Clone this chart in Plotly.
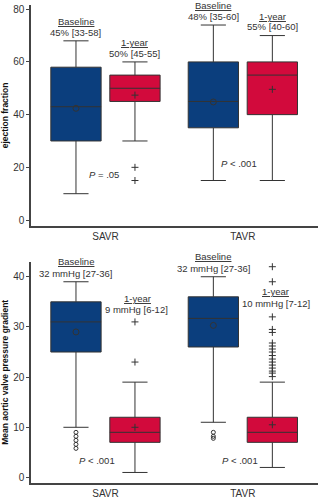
import plotly.graph_objects as go
from plotly.subplots import make_subplots

categories = ["SAVR", "TAVR"]
series = ["Baseline", "1-year"]

# Ejection fraction (top panel)
ef_q1 = {"Baseline": [30, 35], "1-year": [45, 40]}
ef_median = {"Baseline": [43, 45], "1-year": [50, 55]}
ef_q3 = {"Baseline": [58, 60], "1-year": [55, 60]}
ef_low = {"Baseline": [10, 15], "1-year": [30, 15]}
ef_high = {"Baseline": [68, 74], "1-year": [60, 70]}
ef_mean = {"Baseline": [42.4, 44.8], "1-year": [47.4, 49.6]}
ef_outliers = {"Baseline": [[], []], "1-year": [[20, 15], []]}
ef_labels = {"Baseline": ["45% [33-58]", "48% [35-60]"],
             "1-year": ["50% [45-55]", "55% [40-60]"]}
ef_pvalues = ["<i>P</i> = .05", "<i>P</i> < .001"]

# Mean aortic valve pressure gradient (bottom panel)
pg_q1 = {"Baseline": [25, 26], "1-year": [7, 7]}
pg_median = {"Baseline": [31, 31.7], "1-year": [9, 9]}
pg_q3 = {"Baseline": [35, 36], "1-year": [12, 12]}
pg_low = {"Baseline": [10, 11], "1-year": [1, 2]}
pg_high = {"Baseline": [39, 40], "1-year": [19, 19]}
pg_mean = {"Baseline": [29.0, 30.3], "1-year": [10.0, 10.5]}
pg_outliers = {"Baseline": [[9, 8.2, 7.4, 6.6, 5.8], [9, 8.2, 7.8]],
               "1-year": [[31, 23],
                          [42, 39, 32, 29.5, 28.9, 26.8, 26.2, 25.6, 25, 24.3,
                           23.6, 23, 22.4, 21.8, 21.2, 20.8, 20.1]]}
pg_labels = {"Baseline": ["32 mmHg [27-36]", "32 mmHg [27-36]"],
             "1-year": ["9 mmHg [6-12]", "10 mmHg [7-12]"]}
pg_pvalues = ["<i>P</i> < .001", "<i>P</i> < .001"]

# style
fills = {"Baseline": "#0b3e7d", "1-year": "#d20a3c"}
mean_symbol = {"Baseline": "circle-open", "1-year": "cross-thin"}
out_symbol = {"Baseline": "circle-open", "1-year": "cross-thin"}
offset = {"Baseline": -0.2147, "1-year": 0.2147}
box_w = 0.366
font = "Liberation Sans, Arial, sans-serif"
ink = "#333333"

fig = make_subplots(rows=2, cols=1, vertical_spacing=0.075)

panels = [
    (1, ef_q1, ef_median, ef_q3, ef_low, ef_high, ef_mean, ef_outliers),
    (2, pg_q1, pg_median, pg_q3, pg_low, pg_high, pg_mean, pg_outliers),
]

for row, q1, med, q3, lo, hi, mn, outl in panels:
    for s in series:
        xs = [i + offset[s] for i in range(len(categories))]
        fig.add_trace(go.Box(
            x=xs, q1=q1[s], median=med[s], q3=q3[s],
            lowerfence=lo[s], upperfence=hi[s],
            width=box_w, whiskerwidth=0.5,
            fillcolor=fills[s], line=dict(color=ink, width=1),
            boxpoints=False, showlegend=False, hoverinfo="skip",
        ), row=row, col=1)
        fig.add_trace(go.Scatter(
            x=xs, y=mn[s], mode="markers",
            marker=dict(symbol=mean_symbol[s], size=6 if s == "Baseline" else 5,
                        color=ink, line=dict(color=ink, width=1)),
            showlegend=False, hoverinfo="skip",
        ), row=row, col=1)
        ox, oy = [], []
        for i, vals in enumerate(outl[s]):
            for v in vals:
                ox.append(i + offset[s])
                oy.append(v)
        if ox:
            fig.add_trace(go.Scatter(
                x=ox, y=oy, mode="markers",
                marker=dict(symbol=out_symbol[s], size=4 if s == "Baseline" else 5,
                            color=ink, line=dict(color=ink, width=1)),
                showlegend=False, hoverinfo="skip",
            ), row=row, col=1)

# Annotations (positions in data units)
ann_font = dict(family=font, size=9.5, color=ink)
def add_text(txt, x, y, row, yshift=0):
    fig.add_annotation(text=txt, x=x, y=y, xref="x" if row == 1 else "x2",
                       yref="y" if row == 1 else "y2", showarrow=False,
                       font=ann_font, xanchor="center", yanchor="middle",
                       yshift=yshift)

# top panel labels
add_text("<u>Baseline</u>", 0 + offset["Baseline"], 75.5, 1)
add_text(ef_labels["Baseline"][0], 0 + offset["Baseline"], 71.0, 1)
add_text("<u>1-year</u>", 0 + offset["1-year"], 67.5, 1)
add_text(ef_labels["1-year"][0], 0 + offset["1-year"], 63.3, 1)
add_text("<u>Baseline</u>", 1 + offset["Baseline"], 77.1, 1, yshift=11.6)
add_text(ef_labels["Baseline"][1], 1 + offset["Baseline"], 77.1, 1)
add_text("<u>1-year</u>", 1 + offset["1-year"], 77.3, 1)
add_text(ef_labels["1-year"][1], 1 + offset["1-year"], 73.3, 1)
add_text(ef_pvalues[0], -0.01, 17.4, 1)
add_text(ef_pvalues[1], 0.97, 21.5, 1)

# bottom panel labels
add_text("<u>Baseline</u>", 0 + offset["Baseline"], 40.7, 2, yshift=11.6)
add_text(pg_labels["Baseline"][0], 0 + offset["Baseline"], 40.7, 2)
add_text("<u>1-year</u>", 0.235, 35.7, 2)
add_text(pg_labels["1-year"][0], 0.228, 33.4, 2)
add_text("<u>Baseline</u>", 1 + offset["Baseline"], 41.7, 2, yshift=11.6)
add_text(pg_labels["Baseline"][1], 1 + offset["Baseline"], 41.7, 2)
add_text("<u>1-year</u>", 1.24, 37.0, 2)
add_text(pg_labels["1-year"][1], 1.24, 34.7, 2)
add_text(pg_pvalues[0], -0.064, 3.4, 2)
add_text(pg_pvalues[1], 0.98, 3.4, 2)

axis_common = dict(showline=True, linecolor="#444444", linewidth=1.5,
                   showgrid=False, zeroline=False, ticks="outside",
                   ticklen=3, tickcolor="#444444",
                   tickfont=dict(family=font, size=10, color=ink))

for row in (1, 2):
    fig.update_xaxes(range=[-0.542, 1.547], tickvals=list(range(len(categories))),
                     ticktext=categories, ticks="", showline=True,
                     linecolor="#444444", linewidth=1.5, showgrid=False,
                     zeroline=False, tickfont=dict(family=font, size=10, color=ink),
                     row=row, col=1)

fig.update_yaxes(range=[-2.2, 81.6], tickvals=[0, 20, 40, 60, 80],
                 title=dict(text="<b>ejection fraction</b>", standoff=4,
                            font=dict(family=font, size=8.5, color="#111111")),
                 row=1, col=1, **axis_common)
fig.update_yaxes(range=[-1.1, 43.0], tickvals=[0, 10, 20, 30, 40],
                 title=dict(text="<b>Mean aortic valve pressure gradient</b>", standoff=4,
                            font=dict(family=font, size=8.5, color="#111111")),
                 row=2, col=1, **axis_common)

fig.update_layout(
    width=318, height=500,
    margin=dict(l=31, r=0, t=5, b=17),
    plot_bgcolor="white", paper_bgcolor="white",
    font=dict(family=font, color=ink),
    showlegend=False,
)
fig.layout.yaxis.domain = [0.538, 1.0]
fig.layout.yaxis2.domain = [0.0, 0.463]

fig.write_html("out.html")
